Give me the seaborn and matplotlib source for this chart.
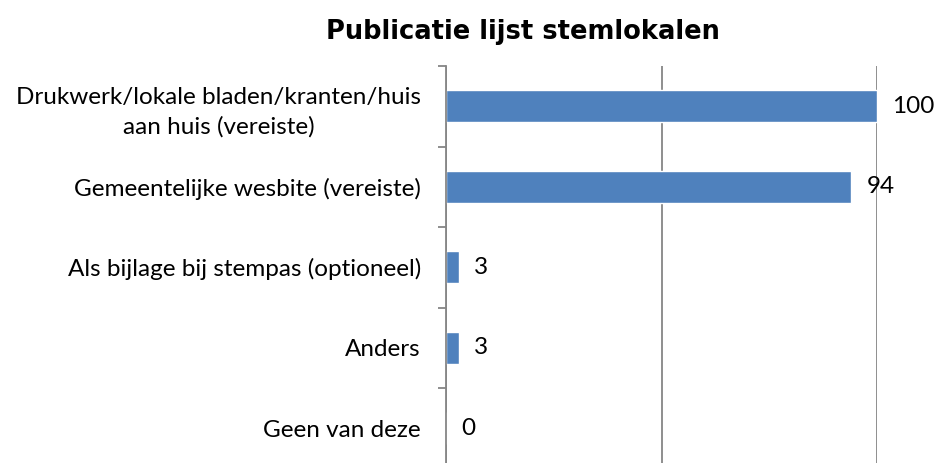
import matplotlib
matplotlib.use("Agg")
import matplotlib.pyplot as plt
import seaborn as sns
import pandas as pd

categories = [
    "Drukwerk/lokale bladen/kranten/huis\naan huis (vereiste)",
    "Gemeentelijke wesbite (vereiste)",
    "Als bijlage bij stempas (optioneel)",
    "Anders",
    "Geen van deze",
]
values = [100, 94, 3, 3, 0]
title = "Publicatie lijst stemlokalen"

sns.set_style("white")
plt.rcParams['font.family'] = ['Lato', 'DejaVu Sans']
plt.rcParams['text.color'] = 'black'
plt.rcParams['ytick.labelcolor'] = 'black'

df = pd.DataFrame({"cat": categories, "val": values})

fig = plt.figure(figsize=(9.36, 4.63), dpi=100)
ax = fig.add_axes([446 / 936, -5.5 / 463, 431 / 936, 402.5 / 463])

sns.barplot(data=df, x="val", y="cat", orient="h", color="#4F81BD",
            width=0.4, saturation=1, ax=ax)

ax.set_xlim(0, 100)
ax.set_ylim(4.5, -0.5)
ax.set_xlabel("")
ax.set_ylabel("")
ax.set_xticks([0, 50, 100])
ax.set_xticklabels([])
ax.tick_params(axis="x", length=0)
ax.grid(axis="x", color="#868686", linewidth=1.3)
ax.set_axisbelow(True)

for side in ["top", "right", "bottom"]:
    ax.spines[side].set_visible(False)
ax.spines["left"].set_color("#868686")
ax.spines["left"].set_linewidth(1.3)

ax.set_yticks([-0.5, 0.5, 1.5, 2.5, 3.5, 4.5], minor=True)
ax.tick_params(axis="y", which="minor", length=6, width=1.3, color="#868686", left=True)
ax.tick_params(axis="y", which="major", length=0, pad=18, labelsize=17.5, labelcolor="black")
for lbl in ax.get_yticklabels():
    lbl.set_multialignment("center")
    lbl.set_linespacing(1.45)

for container in ax.containers:
    ax.bar_label(container, labels=[str(v) for v in values], padding=11,
                 fontsize=17.5, color="black")

fig.text(523 / 936, 1 - 32 / 463, title, ha="center", va="center",
         fontsize=18.5, fontweight="bold", family=["DejaVu Sans"], color="black")

fig.savefig("out.png", dpi=100)
